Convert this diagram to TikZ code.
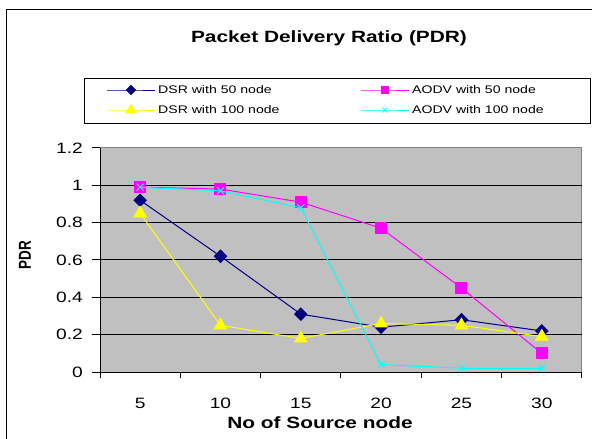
\documentclass[tikz,border=0pt]{standalone}
\usepackage{fontspec}
\setmainfont{Liberation Sans}[FakeStretch=1.28]
\newfontfamily\plainsans{Liberation Sans}
\usetikzlibrary{plotmarks}

\definecolor{dsrblue}{HTML}{000080}
\definecolor{aodvpink}{HTML}{FF00FF}
\definecolor{dsryellow}{HTML}{FFFF00}
\definecolor{aodvcyan}{HTML}{00FFFF}
\definecolor{plotgray}{HTML}{C0C0C0}
\definecolor{edgegray}{HTML}{808080}

\begin{document}
\begin{tikzpicture}[x=1pt, y=-1pt,
    ticklabel/.style={font=\fontsize{15}{15}\selectfont, inner sep=0pt},
    xtitle/.style={font=\bfseries\fontsize{16.3}{16}\selectfont, inner sep=0pt},
    legendtext/.style={font=\fontsize{11}{11}\selectfont, anchor=west, inner sep=0pt},
    gridline/.style={black, line width=1pt},
    series/.style={line width=1pt},
    dsrfifty/.style={series, dsrblue, mark=square*, mark options={rotate=45, fill=dsrblue}},
    aodvfifty/.style={series, aodvpink, mark=square*, mark options={fill=aodvpink}},
    dsrhundred/.style={series, dsryellow, mark=triangle*, mark options={fill=dsryellow}},
    aodvhundred/.style={series, aodvcyan, mark=x}
]
\useasboundingbox (0,0) rectangle (592,439);

% chart frame (cut off at right and bottom)
\draw[line width=1pt] (6,439) -- (6,9) -- (592,9);

\node[font=\bfseries\fontsize{16.3}{16}\selectfont, inner sep=0pt] (title) at (329,38) {Packet Delivery Ratio (PDR)};

% legend
\node[draw, line width=1pt, fill=white, anchor=north west, inner sep=0pt,
      minimum width=506pt, minimum height=45pt] (legend) at (84,78) {};
\coordinate (la1) at (107,90);  \coordinate (lb1) at (155,90);
\coordinate (la2) at (361,90);  \coordinate (lb2) at (409,90);
\coordinate (la3) at (107,110); \coordinate (lb3) at (155,110);
\coordinate (la4) at (361,110); \coordinate (lb4) at (409,110);
\draw[dsrfifty, mark size=3.2pt, mark indices={2}] plot coordinates {(la1) (131,90) (lb1)};
\draw[aodvfifty, mark size=3.5pt, mark indices={2}] plot coordinates {(la2) (385,90) (lb2)};
\draw[dsrhundred, mark size=5.5pt, mark indices={2}] plot coordinates {(la3) (131,110) (lb3)};
\draw[aodvhundred, mark size=3.5pt, mark indices={2}] plot coordinates {(la4) (385,110) (lb4)};
\node[legendtext] (lt1) at (158,90) {DSR with 50 node};
\node[legendtext] (lt2) at (412,90) {AODV with 50 node};
\node[legendtext] (lt3) at (158,110) {DSR with 100 node};
\node[legendtext] (lt4) at (412,110) {AODV with 100 node};

% plot area, one unit = one category / one PDR
\begin{scope}[shift={(100,372)}, x=80.33pt, y=186.67pt]
  \fill[plotgray] (0,0) rectangle (6,1.2);
  \draw[edgegray, line width=1pt] (0,1.2) -- (6,1.2) -- (6,0);
  \foreach \v in {0.2,0.4,0.6,0.8,1.0}
    \draw[gridline] (0,\v) -- (6,\v);
  \draw[line width=1pt] (0,1.2) -- (0,0) -- (6,0);

  % y ticks
  \foreach \v/\t [count=\k] in {0/0,0.2/0.2,0.4/0.4,0.6/0.6,0.8/0.8,1/1,1.2/1.2}{
    \draw[line width=1pt] (0,\v) -- ++(-8pt,0);
    \node[ticklabel, anchor=east] (ylab\k) at ([xshift=-17pt]0,\v) {\t};
  }
  % x ticks
  \foreach \i in {0,...,6}
    \draw[line width=1pt] (\i,0) -- ++(0,-6pt);
  \foreach \n [count=\i] in {5,10,15,20,25,30}
    \node[ticklabel] (xlab\i) at ([yshift=-31pt]\i-0.5,0) {\n};

  % data
  \draw[dsrfifty, mark size=4.3pt] plot coordinates
    {(0.5,0.92) (1.5,0.62) (2.5,0.31) (3.5,0.24) (4.5,0.28) (5.5,0.22)};
  \draw[aodvfifty, mark size=5.5pt] plot coordinates
    {(0.5,0.99) (1.5,0.98) (2.5,0.91) (3.5,0.77) (4.5,0.45) (5.5,0.10)};
  \draw[dsrhundred, mark size=7pt] plot coordinates
    {(0.5,0.85) (1.5,0.25) (2.5,0.18) (3.5,0.26) (4.5,0.25) (5.5,0.19)};
  \draw[aodvhundred, mark size=5pt] plot coordinates
    {(0.5,0.99) (1.5,0.97) (2.5,0.88) (3.5,0.04) (4.5,0.02) (5.5,0.02)};
\end{scope}

% axis titles
\node[xtitle] (xtitle) at (320,423) {No of Source node};
\node[rotate=90, inner sep=0pt] (ytitle) at (25,255)
  {\scalebox{1}[1.28]{\plainsans\bfseries\fontsize{13.5}{14}\selectfont PDR}};
\end{tikzpicture}
\end{document}
